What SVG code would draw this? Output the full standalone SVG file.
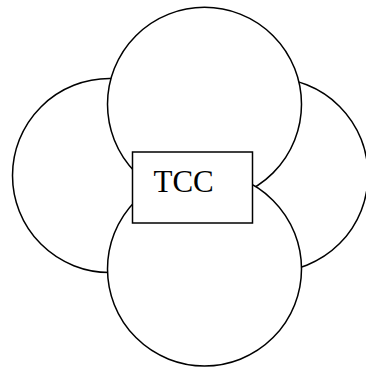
<svg xmlns="http://www.w3.org/2000/svg" width="366" height="368" viewBox="0 0 366 368">
  <style>
    .c { fill: #ffffff; stroke: #000000; stroke-width: 1.5; }
    .lbl { font-family: "Liberation Serif", "Times New Roman", serif; font-size: 31px; fill: #000000; }
  </style>
  <rect x="0" y="0" width="366" height="368" fill="#ffffff"/>
  <g id="circle-left"><circle class="c" cx="109.5" cy="175.5" r="97"/></g>
  <g id="circle-right"><circle class="c" cx="271" cy="175" r="97"/></g>
  <g id="circle-top"><circle class="c" cx="204.5" cy="104.3" r="97"/></g>
  <g id="circle-bottom"><circle class="c" cx="204.5" cy="269" r="97"/></g>
  <g id="tcc">
    <rect class="c" x="132.5" y="152" width="120" height="71"/>
    <text class="lbl" x="153.5" y="192">TCC</text>
  </g>
  <g id="connectors"></g>
</svg>
